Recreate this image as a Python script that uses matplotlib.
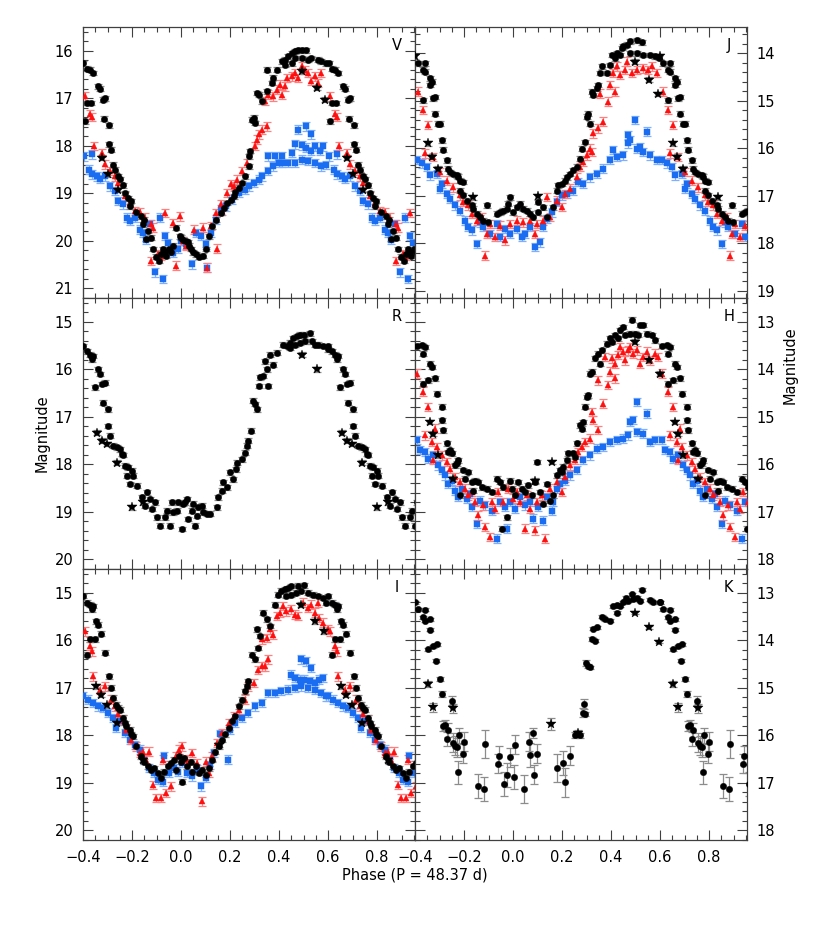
import matplotlib
matplotlib.use('Agg')
import matplotlib.pyplot as plt
from matplotlib.ticker import MultipleLocator, FuncFormatter

# ---------------- data (phase, magnitude) ----------------
V_black = [(-0.398,16.26),(-0.385,16.38),(-0.372,16.40),(-0.360,16.47),(-0.392,17.48),(-0.384,17.10),(-0.366,17.10),(-0.338,16.75),(-0.331,16.80),(-0.318,17.03),(-0.310,17.00),(-0.316,17.43),(-0.293,17.57),(-0.293,17.97),(-0.284,18.08),(-0.276,18.40),(-0.270,18.50),(-0.258,18.64),(-0.250,18.70),(-0.238,18.83),(-0.229,18.99),(-0.216,19.10),(-0.204,19.16),(-0.209,19.27),(-0.182,19.40),(-0.163,19.48),(-0.150,19.55),(-0.156,19.65),(-0.136,19.79),(-0.142,19.96),
           (-0.122,19.93),(-0.114,20.17),(-0.101,20.33),(-0.088,20.42),(-0.081,20.28),(-0.074,20.17),(-0.067,20.24),(-0.060,20.31),(-0.049,20.17),(-0.040,20.24),(-0.033,20.10),(-0.020,19.72),(-0.006,19.90),(0.000,19.93),(0.008,19.97),(0.021,20.00),(0.027,20.03),(0.034,20.10),(0.041,20.17),(0.048,20.24),(0.061,20.28),(0.074,20.33),(0.088,20.31),(0.101,20.17),
           (0.115,19.90),(0.128,19.69),(0.142,19.55),(0.162,19.41),(0.175,19.30),(0.189,19.20),(0.202,19.13),(0.216,19.06),(0.222,18.97),(0.236,18.88),(0.250,18.78),(0.263,18.64),(0.276,18.43),(0.276,18.22),(0.283,18.11),(0.290,17.45),(0.297,17.41),(0.303,17.52),(0.310,16.89),(0.317,16.92),(0.330,17.06),(0.350,16.85),(0.370,16.68),(0.377,16.57),(0.350,16.40),(0.390,16.40),(0.411,16.22),(0.425,16.19),(0.438,16.12),(0.452,16.05),(0.465,16.01),(0.479,15.99),(0.492,15.99),(0.512,15.99),(0.425,16.29),(0.452,16.26),(0.465,16.15),(0.492,16.15),(0.519,16.19),(0.532,16.15),(0.559,16.19),(0.573,16.22),(0.590,16.26)]
V_star = [(-0.323,18.25),(-0.300,18.60),(-0.256,18.92),(0.492,16.43),(0.553,16.78),(0.589,17.03)]
V_red = [(-0.390,16.96),(-0.373,17.34),(-0.364,17.39),(-0.357,18.00),(-0.323,18.15),(-0.310,18.39),(-0.290,18.53),(-0.270,18.64),(-0.256,18.78),(-0.229,19.06),(-0.209,19.20),(-0.188,19.37),(-0.168,19.40),(-0.148,19.51),(-0.121,19.65),(-0.114,19.72),(-0.067,19.41),(-0.121,20.42),(-0.094,20.28),(-0.081,20.32),(-0.033,19.62),(-0.006,19.48),(-0.020,20.52),(0.007,20.00),(0.021,20.10),(0.054,19.76),(0.088,19.72),(0.108,20.56),(0.122,19.69),(0.148,20.16),(0.142,19.41),(0.162,19.23),(0.169,19.37),(0.189,18.99),(0.202,18.81),(0.216,18.85),(0.229,18.71),(0.250,18.53),(0.270,18.36),(0.303,18.00),(0.310,17.87),(0.317,17.76),(0.330,17.66),(0.350,17.59),(0.344,17.06),(0.357,16.92),(0.377,16.96),(0.390,16.82),(0.404,16.71),(0.411,16.92),(0.425,16.75),(0.431,16.57),(0.452,16.54),(0.465,16.47),(0.479,16.57),(0.492,16.33),(0.505,16.40),(0.519,16.47),(0.532,16.64),(0.546,16.54),(0.559,16.68),(0.573,16.47)]
V_blue = [(-0.397,18.22),(-0.377,18.50),(-0.364,18.60),(-0.364,18.18),(-0.343,18.64),(-0.330,18.70),(-0.310,18.64),(-0.290,18.85),(-0.270,18.95),(-0.256,19.16),(-0.236,19.23),(-0.222,19.51),(-0.209,19.58),(-0.188,19.51),(-0.168,19.76),(-0.155,19.83),(-0.141,19.97),(-0.128,19.65),(-0.108,20.66),(-0.074,20.80),(-0.087,19.51),(-0.067,19.90),(-0.054,20.04),(-0.033,20.25),(-0.013,20.17),(0.000,20.00),(0.020,20.07),(0.045,20.49),(0.061,19.83),(0.081,19.90),(0.101,20.07),(0.108,20.56),(0.122,19.83),(0.142,19.55),(0.162,19.34),(0.182,19.27),(0.209,19.13),(0.236,18.99),(0.263,18.92),(0.276,18.85),(0.297,18.78),(0.317,18.71),(0.330,18.64),(0.357,18.53),(0.377,18.43),(0.398,18.36),(0.411,18.36),(0.438,18.36),(0.465,18.36),(0.492,18.29),(0.519,18.32),(0.546,18.36),(0.573,18.43),(0.593,18.40),(0.357,18.22),(0.384,18.22),(0.411,18.22),(0.452,18.15),(0.465,17.97),(0.492,17.99),(0.512,18.04),(0.532,18.11),(0.546,18.01),(0.566,18.11),(0.579,18.01),(0.479,17.66),(0.512,17.59),(0.532,17.76)]

J_black = [(-0.386,14.21),(-0.359,14.21),(-0.366,14.35),(-0.359,14.39),(-0.339,14.53),(-0.332,14.60),(-0.339,14.67),(-0.366,14.99),(-0.325,14.95),(-0.318,14.92),(-0.318,15.27),(-0.305,15.48),(-0.298,15.48),(-0.291,15.83),(-0.284,16.03),(-0.271,16.25),(-0.264,16.43),(-0.257,16.50),(-0.244,16.54),(-0.230,16.57),(-0.223,16.60),(-0.216,16.68),(-0.203,16.71),(-0.216,16.89),(-0.203,16.99),(-0.189,17.10),(-0.169,17.20),(-0.162,17.27),(-0.148,17.38),(-0.135,17.45),(-0.121,17.52),(-0.107,17.20),(-0.101,17.56),(-0.067,17.38),(-0.053,17.35),(-0.040,17.31),(-0.026,17.27),(-0.012,17.03),(-0.019,17.17),(0.001,17.35),(0.015,17.24),(0.029,17.17),(0.042,17.27),(0.056,17.31),(0.070,17.38),(0.083,17.45),(0.103,17.13),(0.103,17.35),(0.124,17.24),(0.137,17.45),(0.165,17.24),(0.178,16.89),(0.185,16.78),(0.199,16.75),(0.212,16.68),(0.219,16.61),(0.233,16.54),(0.246,16.46),(0.260,16.39),(0.273,16.22),(0.280,16.01),(0.294,15.87),(0.301,15.34),(0.308,15.27),(0.314,15.48),(0.321,14.81),(0.328,14.88),(0.341,14.74),(0.348,14.67),(0.355,14.42),(0.362,14.28),(0.382,14.42),(0.396,14.25),(0.402,14.04),(0.416,14.11),(0.423,14.00),(0.443,13.89),(0.450,13.86),(0.464,13.82),(0.477,13.75),(0.505,13.73),(0.525,13.77),(0.436,14.04),(0.477,14.00),(0.505,14.00),(0.532,14.04),(0.559,14.04),(0.579,14.07),(0.595,14.10)]
J_star = [(-0.400,14.07),(-0.346,15.90),(-0.332,16.18),(-0.305,16.43),(-0.162,17.03),(0.103,17.01),(0.498,14.18),(0.556,14.56),(0.593,14.86)]
J_red = [(-0.386,14.81),(-0.366,15.20),(-0.346,15.51),(-0.359,16.11),(-0.325,16.18),(-0.298,16.50),(-0.271,16.68),(-0.244,16.82),(-0.216,16.99),(-0.203,17.13),(-0.182,17.20),(-0.169,17.38),(-0.148,17.52),(-0.128,17.45),(-0.107,17.80),(-0.114,18.26),(-0.094,17.59),(-0.074,17.87),(-0.053,17.63),(-0.033,17.94),(-0.012,17.59),(0.015,17.52),(0.042,17.56),(0.070,17.52),(0.090,17.80),(0.097,17.59),(0.124,17.52),(0.137,17.03),(0.151,17.45),(0.178,17.10),(0.199,17.24),(0.212,16.96),(0.233,16.85),(0.260,16.61),(0.273,16.39),(0.287,16.29),(0.301,16.15),(0.314,16.01),(0.321,16.08),(0.328,15.69),(0.348,15.58),(0.369,15.44),(0.355,14.85),(0.389,15.02),(0.396,14.67),(0.416,14.81),(0.410,14.42),(0.423,14.28),(0.436,14.46),(0.457,14.35),(0.464,14.18),(0.484,14.42),(0.505,14.35),(0.532,14.32),(0.552,14.35),(0.566,14.28),(0.586,14.42)]
J_blue = [(-0.393,16.25),(-0.373,16.32),(-0.352,16.39),(-0.339,16.57),(-0.312,16.54),(-0.291,16.75),(-0.298,16.85),(-0.271,16.96),(-0.257,17.06),(-0.237,17.20),(-0.216,17.31),(-0.196,17.52),(-0.182,17.66),(-0.169,17.73),(-0.148,18.01),(-0.135,17.56),(-0.121,17.66),(-0.094,17.80),(-0.067,17.59),(-0.053,17.87),(-0.033,17.70),(-0.012,17.80),(0.015,17.70),(0.035,17.87),(0.049,17.80),(0.070,17.66),(0.090,18.08),(0.110,17.98),(0.124,17.66),(0.137,17.49),(0.158,17.35),(0.178,17.13),(0.199,16.99),(0.219,16.96),(0.246,16.89),(0.266,16.71),(0.287,16.75),(0.314,16.61),(0.341,16.54),(0.369,16.43),(0.396,16.25),(0.409,16.04),(0.423,16.18),(0.450,16.15),(0.471,15.90),(0.477,15.83),(0.471,15.73),(0.498,15.41),(0.505,16.01),(0.518,15.97),(0.532,16.08),(0.545,15.65),(0.559,16.15),(0.586,16.25)]

R_black = [(-0.399,15.52),(-0.385,15.62),(-0.371,15.69),(-0.358,15.72),(-0.365,15.79),(-0.351,16.38),(-0.337,16.00),(-0.331,16.10),(-0.324,16.31),(-0.310,16.28),(-0.317,16.70),(-0.297,16.84),(-0.297,17.19),(-0.290,17.40),(-0.277,17.61),(-0.263,17.64),(-0.250,17.68),(-0.242,17.78),(-0.235,17.80),(-0.229,18.03),(-0.215,18.06),(-0.201,18.13),(-0.222,18.24),(-0.195,18.24),(-0.208,18.41),(-0.181,18.45),(-0.160,18.69),(-0.140,18.59),(-0.147,18.87),(-0.127,18.73),(-0.120,18.94),(-0.099,19.11),(-0.106,18.80),(-0.086,19.29),(-0.065,19.11),(-0.058,18.97),(-0.045,19.29),(-0.038,18.80),(-0.031,19.01),(-0.018,18.97),(-0.011,18.80),(0.003,19.36),(0.010,18.83),(0.016,18.80),(0.023,18.73),(0.030,19.15),(0.044,18.97),(0.050,18.83),(0.057,19.29),(0.064,19.08),(0.071,18.90),(0.084,18.87),(0.091,19.01),(0.105,19.04),(0.118,19.04),(0.146,18.90),(0.152,18.69),(0.166,18.55),(0.173,18.38),(0.186,18.48),(0.200,18.17),(0.213,18.31),(0.224,18.10),(0.229,17.96),(0.248,17.89),(0.261,17.75),(0.268,17.61),(0.275,17.50),(0.284,17.29),(0.292,16.66),(0.302,16.73),(0.309,16.84),(0.320,16.35),(0.322,16.17),(0.336,16.14),(0.350,16.00),(0.356,16.35),(0.343,15.83),(0.363,15.69),(0.377,15.90),(0.390,15.65),(0.418,15.48),(0.431,15.51),(0.445,15.44),(0.459,15.34),(0.472,15.30),(0.486,15.27),(0.500,15.27),(0.527,15.24),(0.445,15.55),(0.466,15.48),(0.486,15.44),(0.506,15.41),(0.533,15.41),(0.547,15.48),(0.561,15.48),(0.581,15.51),(0.598,15.58)]
R_star = [(-0.344,17.33),(-0.324,17.50),(-0.303,17.57),(-0.263,17.96),(-0.201,18.90),(-0.154,18.80),(0.493,15.69),(0.554,16.00)]

H_black = [(-0.393,13.51),(-0.373,13.49),(-0.359,13.53),(-0.366,13.67),(-0.339,13.88),(-0.332,13.95),(-0.366,14.30),(-0.346,14.23),(-0.318,14.19),(-0.312,14.51),(-0.291,14.79),(-0.291,15.07),(-0.284,15.28),(-0.271,15.56),(-0.264,15.74),(-0.257,15.70),(-0.250,15.77),(-0.237,16.02),(-0.230,15.98),(-0.223,15.91),(-0.203,16.12),(-0.182,16.16),(-0.196,16.30),(-0.169,16.37),(-0.155,16.34),(-0.141,16.37),(-0.216,16.65),(-0.162,16.55),(-0.128,16.48),(-0.107,16.51),(-0.087,16.58),(-0.067,16.30),(-0.053,16.37),(-0.040,16.48),(-0.026,17.11),(-0.046,17.35),(-0.012,16.34),(-0.005,16.51),(0.008,16.65),(0.022,16.37),(0.035,16.51),(0.049,16.58),(0.063,16.44),(0.076,16.65),(0.090,16.37),(0.097,15.95),(0.110,16.58),(0.124,16.83),(0.137,16.41),(0.151,16.76),(0.165,16.65),(0.178,16.23),(0.192,16.12),(0.199,16.16),(0.205,16.05),(0.219,15.91),(0.226,15.77),(0.246,15.77),(0.253,15.84),(0.260,15.56),(0.273,15.18),(0.280,15.25),(0.287,15.11),(0.294,14.79),(0.301,14.58),(0.308,14.55),(0.314,14.09),(0.321,14.05),(0.335,13.77),(0.348,13.67),(0.355,13.88),(0.362,13.60),(0.382,13.46),(0.396,13.35),(0.402,13.42),(0.416,13.28),(0.430,13.35),(0.436,13.18),(0.450,13.11),(0.457,13.28),(0.477,13.25),(0.484,12.96),(0.498,13.25),(0.511,13.28),(0.518,13.07),(0.532,13.07),(0.545,13.25),(0.566,13.28),(0.579,13.39)]
H_star = [(-0.339,15.11),(-0.325,15.35),(-0.305,15.81),(-0.244,16.30),(0.090,16.34),(0.158,15.95),(0.498,13.42),(0.556,13.81),(0.598,14.09)]
H_red = [(-0.393,14.09),(-0.366,14.47),(-0.346,14.79),(-0.359,15.39),(-0.332,15.53),(-0.318,15.25),(-0.312,15.63),(-0.291,15.81),(-0.325,15.91),(-0.271,15.95),(-0.257,16.09),(-0.237,16.27),(-0.216,16.37),(-0.196,16.51),(-0.182,16.65),(-0.169,16.58),(-0.155,16.79),(-0.141,17.07),(-0.121,16.86),(-0.114,17.32),(-0.094,17.53),(-0.087,16.79),(-0.074,16.93),(-0.060,16.58),(-0.040,16.79),(-0.019,16.51),(0.001,16.72),(0.015,16.58),(0.029,16.79),(0.049,17.35),(0.056,16.65),(0.070,16.93),(0.090,17.39),(0.097,16.79),(0.117,16.65),(0.131,17.56),(0.151,16.51),(0.178,16.37),(0.199,16.58),(0.212,16.27),(0.233,16.02),(0.253,15.91),(0.267,15.74),(0.280,15.63),(0.294,15.53),(0.314,15.46),(0.328,15.07),(0.321,14.90),(0.348,15.28),(0.369,14.72),(0.389,14.33),(0.348,14.23),(0.396,14.05),(0.416,14.19),(0.402,13.77),(0.416,13.88),(0.430,13.70),(0.450,13.63),(0.457,13.81),(0.471,13.60),(0.477,13.53),(0.491,13.67),(0.505,13.60),(0.518,13.88),(0.532,13.74),(0.545,13.63),(0.559,13.81),(0.579,13.67),(0.593,13.74),(0.375,13.74),(0.437,13.53)]
H_blue = [(-0.393,15.49),(-0.379,15.70),(-0.359,15.74),(-0.346,15.88),(-0.325,15.81),(-0.305,16.02),(-0.291,16.12),(-0.278,16.23),(-0.264,16.41),(-0.250,16.34),(-0.237,16.55),(-0.223,16.69),(-0.210,16.51),(-0.189,16.72),(-0.176,16.62),(-0.169,16.90),(-0.148,17.25),(-0.135,16.76),(-0.114,16.86),(-0.087,16.97),(-0.067,17.56),(-0.053,16.79),(-0.033,16.90),(-0.026,17.35),(-0.012,16.79),(0.008,16.93),(0.029,16.69),(0.049,16.86),(0.070,16.79),(0.083,17.14),(0.103,16.90),(0.124,17.18),(0.137,16.69),(0.158,16.97),(0.165,16.79),(0.178,16.51),(0.192,16.41),(0.212,16.34),(0.233,16.23),(0.260,16.12),(0.287,15.91),(0.314,15.81),(0.341,15.67),(0.369,15.63),(0.396,15.53),(0.423,15.49),(0.450,15.46),(0.471,15.39),(0.505,15.32),(0.532,15.35),(0.559,15.53),(0.579,15.49),(0.477,15.11),(0.491,15.07),(0.505,14.69),(0.545,14.93)]

I_black = [(-0.399,15.07),(-0.385,15.21),(-0.372,15.25),(-0.365,15.35),(-0.358,15.28),(-0.345,15.60),(-0.338,15.67),(-0.372,15.98),(-0.351,15.98),(-0.325,15.86),(-0.385,16.30),(-0.311,16.26),(-0.294,16.76),(-0.284,17.00),(-0.277,17.21),(-0.264,17.35),(-0.257,17.42),(-0.250,17.46),(-0.236,17.63),(-0.229,17.74),(-0.223,17.81),(-0.209,17.88),(-0.203,17.98),(-0.196,18.02),(-0.183,18.23),(-0.163,18.44),(-0.150,18.55),(-0.136,18.65),(-0.122,18.72),(-0.109,18.69),(-0.095,18.79),(-0.082,18.90),(-0.068,18.76),(-0.055,18.65),(-0.041,18.58),(-0.028,18.51),(-0.021,18.72),(-0.008,18.44),(0.000,18.55),(0.006,18.97),(0.012,18.48),(0.026,18.65),(0.039,18.55),(0.046,18.76),(0.060,18.65),(0.073,18.79),(0.086,18.72),(0.100,18.83),(0.114,18.69),(0.127,18.51),(0.140,18.34),(0.154,18.23),(0.167,18.09),(0.181,17.98),(0.195,17.84),(0.208,17.70),(0.222,17.60),(0.235,17.39),(0.249,17.25),(0.262,17.07),(0.269,16.97),(0.275,16.86),(0.289,16.30),(0.302,16.40),(0.316,16.16),(0.309,15.77),(0.323,15.91),(0.336,15.42),(0.350,15.56),(0.363,15.70),(0.383,15.25),(0.397,15.04),(0.410,14.96),(0.423,14.93),(0.437,14.90),(0.450,14.86),(0.477,14.85),(0.504,14.84),(0.430,15.07),(0.450,15.04),(0.471,15.00),(0.491,14.96),(0.518,15.00),(0.538,15.04),(0.558,15.07),(0.578,15.11),(0.592,15.21)]
I_star = [(-0.345,16.97),(-0.325,17.14),(-0.304,17.37),(-0.261,17.74),(-0.156,18.51),(0.154,18.20),(0.491,15.25),(0.547,15.60),(0.585,15.81)]
I_red = [(-0.392,15.81),(-0.372,16.12),(-0.365,16.23),(-0.358,16.76),(-0.331,17.04),(-0.311,16.97),(-0.284,17.25),(-0.270,17.39),(-0.257,17.56),(-0.236,17.67),(-0.223,17.88),(-0.203,18.09),(-0.183,18.23),(-0.169,18.37),(-0.156,18.34),(-0.142,18.51),(-0.129,18.34),(-0.115,19.04),(-0.102,19.32),(-0.082,19.32),(-0.062,19.21),(-0.041,19.07),(-0.075,18.51),(-0.048,18.62),(-0.021,18.44),(-0.008,18.30),(0.006,18.23),(0.026,18.51),(0.046,18.37),(0.066,18.58),(0.086,19.39),(0.100,18.55),(0.114,18.79),(0.127,18.44),(0.147,18.16),(0.167,17.95),(0.195,17.74),(0.215,17.60),(0.235,17.46),(0.262,17.25),(0.275,16.97),(0.296,16.90),(0.316,16.62),(0.330,16.55),(0.343,16.55),(0.356,16.40),(0.330,15.98),(0.350,15.95),(0.363,15.77),(0.376,15.88),(0.390,15.49),(0.403,15.42),(0.417,15.28),(0.430,15.39),(0.450,15.35),(0.464,15.46),(0.477,15.49),(0.497,15.21),(0.518,15.32),(0.531,15.25),(0.545,15.42),(0.565,15.53),(0.578,15.63),(0.558,15.21),(0.598,15.77)]
I_blue = [(-0.399,17.18),(-0.378,17.25),(-0.358,17.32),(-0.338,17.39),(-0.318,17.42),(-0.297,17.53),(-0.277,17.63),(-0.266,17.84),(-0.250,17.70),(-0.229,17.95),(-0.209,18.09),(-0.189,18.20),(-0.169,18.30),(-0.149,18.51),(-0.129,18.69),(-0.109,18.79),(-0.095,18.93),(-0.075,18.97),(-0.068,18.44),(-0.048,18.79),(-0.028,18.69),(-0.014,18.76),(0.006,18.58),(0.026,18.79),(0.046,18.86),(0.066,18.72),(0.080,19.07),(0.100,18.90),(0.120,18.62),(0.134,18.37),(0.161,17.98),(0.192,18.51),(0.201,17.88),(0.222,17.74),(0.249,17.63),(0.275,17.53),(0.302,17.39),(0.330,17.32),(0.356,17.11),(0.383,17.11),(0.410,17.07),(0.437,17.04),(0.464,17.00),(0.491,16.97),(0.518,17.00),(0.545,17.04),(0.572,17.11),(0.592,17.18),(0.450,16.72),(0.464,16.79),(0.484,16.83),(0.504,16.83),(0.525,16.86),(0.545,16.90),(0.565,16.83),(0.578,16.79),(0.491,16.40),(0.511,16.44),(0.531,16.58)]

# K band: (phase, magnitude, error)
K_black = [(-0.400,13.20,0.03),(-0.386,13.35,0.03),(-0.359,13.36,0.03),(-0.366,13.52,0.03),(-0.359,13.59,0.03),(-0.339,13.56,0.03),(-0.339,13.78,0.03),(-0.346,14.19,0.03),(-0.325,14.13,0.03),(-0.312,14.08,0.03),(-0.314,14.43,0.03),(-0.298,14.82,0.04),(-0.291,15.13,0.06),(-0.284,15.80,0.10),(-0.278,15.78,0.10),(-0.271,16.08,0.15),(-0.264,15.88,0.15),(-0.250,15.27,0.10),(-0.244,16.15,0.20),(-0.237,16.22,0.20),(-0.230,16.25,0.20),(-0.219,16.00,0.15),(-0.223,16.78,0.25),(-0.203,16.39,0.20),(-0.200,16.13,0.20),(-0.142,17.06,0.25),(-0.118,17.13,0.25),(-0.114,16.18,0.30),(-0.060,16.60,0.20),(-0.056,16.43,0.20),(-0.037,17.02,0.25),(-0.026,16.83,0.25),(-0.012,16.46,0.20),(0.004,16.88,0.25),(0.008,16.20,0.20),(0.045,17.13,0.30),(0.067,16.13,0.20),(0.069,16.41,0.25),(0.080,15.95,0.10),(0.085,16.83,0.20),(0.098,16.39,0.20),(0.181,16.69,0.30),(0.203,16.58,0.25),(0.212,16.99,0.30),(0.233,16.43,0.20),(0.253,15.99,0.06),(0.263,15.97,0.06),(0.273,16.00,0.06),(0.284,15.52,0.10),(0.289,15.34,0.10),(0.295,15.55,0.05),(0.298,14.47,0.06),(0.307,14.54,0.05),(0.314,14.57,0.04),(0.321,13.97,0.04),(0.335,14.01,0.03),(0.328,13.76,0.03),(0.341,13.73,0.03),(0.362,13.50,0.03),(0.375,13.56,0.03),(0.396,13.59,0.03),(0.407,13.28,0.03),(0.423,13.26,0.03),(0.423,13.42,0.03),(0.436,13.27,0.03),(0.450,13.20,0.03),(0.461,13.10,0.03),(0.469,13.17,0.03),(0.484,13.03,0.03),(0.491,13.14,0.03),(0.505,13.10,0.03),(0.518,13.17,0.03),(0.525,12.94,0.03),(0.559,13.15,0.03),(0.573,13.20,0.03),(0.598,13.20,0.03)]
K_star = [(-0.346,14.92,0.06),(-0.325,15.41,0.10),(-0.244,15.43,0.10),(0.154,15.76,0.12),(0.267,15.94,0.06),(0.498,13.42,0.03),(0.556,13.73,0.03),(0.597,14.03,0.03)]

bands = ['V', 'J', 'R', 'H', 'I', 'K']
ylims = {'V': (21.2, 15.5), 'J': (19.15, 13.45), 'R': (20.2, 14.5),
         'H': (18.2, 12.5), 'I': (20.2, 14.5), 'K': (18.2, 12.5)}
series = {
    'V': dict(blue=V_blue, red=V_red, black=V_black, star=V_star),
    'J': dict(blue=J_blue, red=J_red, black=J_black, star=J_star),
    'R': dict(black=R_black, star=R_star),
    'H': dict(blue=H_blue, red=H_red, black=H_black, star=H_star),
    'I': dict(blue=I_blue, red=I_red, black=I_black, star=I_star),
    'K': dict(black=K_black, star=K_star),
}
default_err = {'blue': 0.09, 'red': 0.09, 'black': 0.05, 'star': 0.05}

XMIN, XMAX = -0.4, 0.955
styles = {
    'blue': dict(fmt='s', color='#1a6cf0', ecolor='#7fb0ff', ms=4.2),
    'red': dict(fmt='^', color='#ff1010', ecolor='#ff8080', ms=4.8),
    'black': dict(fmt='o', color='black', ecolor='#8c8c8c', ms=4.6),
    'star': dict(fmt='*', color='black', ecolor='#8c8c8c', ms=7.5),
}

def unfold(points, kind):
    xs, ys, es = [], [], []
    for pt in points:
        p, m = pt[0], pt[1]
        e = pt[2] if len(pt) > 2 else default_err[kind]
        for shift in (0.0, 1.0):
            if XMIN - 0.01 <= p + shift <= XMAX + 0.01:
                xs.append(p + shift); ys.append(m); es.append(e)
    return xs, ys, es

fig = plt.figure(figsize=(8.3, 9.34), dpi=100)
gs = fig.add_gridspec(3, 2, left=83/830, right=747/830, top=1-27/934, bottom=1-840/934,
                      hspace=0, wspace=0)

fmt_x = FuncFormatter(lambda v, pos: f"{v:.1f}".replace('-', '\u2212'))
fmt_y = FuncFormatter(lambda v, pos: f"{v:.0f}")
axcol = '#404040'

for idx, band in enumerate(bands):
    r, c = divmod(idx, 2)
    ax = fig.add_subplot(gs[r, c])
    for kind in ['blue', 'red', 'black', 'star']:
        if kind not in series[band]:
            continue
        xs, ys, es = unfold(series[band][kind], kind)
        st = styles[kind]
        ax.errorbar(xs, ys, yerr=es, fmt='none', ecolor=st['ecolor'], elinewidth=0.9,
                    capsize=3.2, capthick=0.9, zorder=2)
        ax.plot(xs, ys, linestyle='none', marker=st['fmt'], color=st['color'],
                ms=st['ms'], mec=st['color'], mew=0.3, zorder=3)
    ax.set_xlim(XMIN, XMAX)
    ax.set_ylim(*ylims[band])
    ax.xaxis.set_major_locator(MultipleLocator(0.2))
    ax.xaxis.set_minor_locator(MultipleLocator(0.05))
    ax.yaxis.set_major_locator(MultipleLocator(1.0))
    ax.yaxis.set_minor_locator(MultipleLocator(0.2))
    ax.xaxis.set_major_formatter(fmt_x)
    ax.yaxis.set_major_formatter(fmt_y)
    ax.tick_params(which='both', direction='in', top=True, bottom=True, left=True, right=True,
                   colors=axcol, labelcolor='black', width=0.8, labelsize=10.5, pad=7)
    ax.tick_params(which='major', length=7.5)
    ax.tick_params(which='minor', length=3.5)
    ax.tick_params(axis='x', labelbottom=(r == 2))
    if c == 0:
        ax.tick_params(axis='y', labelleft=True, labelright=False)
    else:
        ax.tick_params(axis='y', labelleft=False, labelright=True)
    for s in ax.spines.values():
        s.set_color(axcol)
        s.set_linewidth(0.9)
    ax.text(0.945, 0.93, band, transform=ax.transAxes, fontsize=10.5,
            ha='center', va='center')

fig.text(42/830, 1-433/934, 'Magnitude', rotation=90, ha='center', va='center', fontsize=10.5)
fig.text(790/830, 1-365/934, 'Magnitude', rotation=90, ha='center', va='center', fontsize=10.5)
fig.text(415/830, 1-875/934, 'Phase (P = 48.37 d)', ha='center', va='center', fontsize=10.5)

fig.savefig('out.png', dpi=100)
